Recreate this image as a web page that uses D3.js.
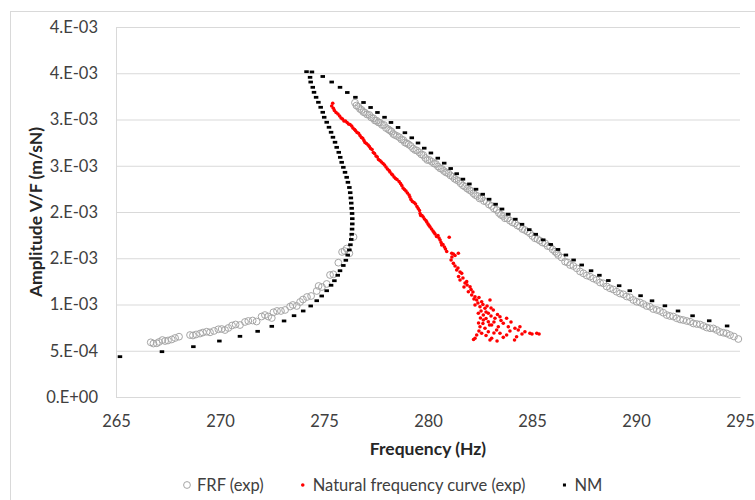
<!DOCTYPE html>
<html>
<head>
<meta charset="utf-8">
<script src="https://cdn.jsdelivr.net/npm/d3@7"></script>
<style>
  body { margin: 0; background: #fff; }
  text { font-family: Lato, "Open Sans", sans-serif; }
</style>
</head>
<body>
<svg id="vis" width="755" height="500"></svg>
<script>
// amplitudes are in units of 1e-3 m/sN
var xTicks = [265, 270, 275, 280, 285, 290, 295];
var yTicks = [0, 0.5, 1, 1.5, 2, 2.5, 3, 3.5, 4];
var yTickLabels = ["0.E+00", "5.E-04", "1.E-03", "2.E-03", "2.E-03", "3.E-03", "3.E-03", "4.E-03", "4.E-03"];
var legendNames = ["FRF (exp)", "Natural frequency curve (exp)", "NM"];

// FRF (exp) : lower branch then upper branch
var frfFreq = [266.67, 266.80, 266.96, 267.07, 267.23, 267.36, 267.50, 267.68, 267.84, 268.03,
  268.56, 268.70, 268.85, 269.04, 269.18, 269.36, 269.52, 269.71, 269.92, 270.08,
  270.24, 270.40, 270.58, 270.75, 270.96, 271.20, 271.36, 271.57, 271.76, 272.00,
  272.16, 272.32, 272.49, 272.57, 272.74, 272.93, 273.13, 273.37, 273.50, 273.69,
  273.85, 273.99, 274.18, 274.38, 274.65, 274.74, 274.90, 275.13, 275.29, 275.45,
  275.69, 275.87, 275.99, 276.09, 276.22, 276.42,
  276.49, 276.56, 276.65, 276.73, 276.81, 276.89, 276.97, 277.07, 277.18, 277.27,
  277.37, 277.45, 277.53, 277.62, 277.69, 277.79, 277.88, 277.98, 278.09, 278.17,
  278.25, 278.33, 278.41, 278.51, 278.62, 278.72, 278.81, 278.89, 278.98, 279.07,
  279.17, 279.28, 279.38, 279.47, 279.58, 279.68, 279.77, 279.87, 279.97, 280.07,
  280.18, 280.29, 280.38, 280.48, 280.58, 280.67, 280.77, 280.87, 280.98, 281.08,
  281.19, 281.28, 281.38, 281.48, 281.57, 281.68, 281.78, 281.88, 281.99, 282.08,
  282.18, 282.27, 282.37, 282.48, 282.58, 282.69, 282.82, 282.93, 283.06, 283.17,
  283.30, 283.41, 283.51, 283.61, 283.70, 283.82, 283.94, 284.06, 284.18, 284.30,
  284.42, 284.54, 284.66, 284.78, 284.90, 285.02, 285.14, 285.26, 285.38, 285.50,
  285.63, 285.75, 285.87, 285.99, 286.11, 286.19, 286.26, 286.42, 286.59, 286.71,
  286.83, 286.99, 287.15, 287.31, 287.47, 287.63, 287.79, 287.95, 288.11, 288.27,
  288.43, 288.59, 288.75, 288.91, 289.07, 289.23, 289.39, 289.55, 289.71, 289.87,
  290.03, 290.19, 290.35, 290.51, 290.67, 290.83, 291.00, 291.15, 291.31, 291.48,
  291.63, 291.79, 291.96, 292.12, 292.27, 292.44, 292.60, 292.76, 292.92, 293.08,
  293.24, 293.40, 293.56, 293.72, 293.88, 294.04, 294.20, 294.36, 294.52, 294.71,
  294.92];
var frfAmp = [0.591, 0.578, 0.581, 0.595, 0.616, 0.605, 0.611, 0.622, 0.638, 0.652,
  0.670, 0.665, 0.676, 0.686, 0.697, 0.706, 0.699, 0.714, 0.732, 0.735,
  0.724, 0.746, 0.773, 0.784, 0.778, 0.811, 0.822, 0.827, 0.816, 0.870,
  0.886, 0.870, 0.854, 0.916, 0.930, 0.930, 0.941, 0.978, 0.995, 0.984,
  1.027, 1.054, 1.081, 1.092, 1.146, 1.200, 1.189, 1.222, 1.319, 1.326,
  1.452, 1.568, 1.578, 1.605, 1.554, 1.730,
  3.182, 3.151, 3.138, 3.114, 3.103, 3.081, 3.074, 3.054, 3.049, 3.022,
  3.013, 2.989, 2.987, 2.968, 2.965, 2.941, 2.941, 2.908, 2.894, 2.881,
  2.868, 2.843, 2.832, 2.822, 2.808, 2.784, 2.778, 2.751, 2.743, 2.730,
  2.714, 2.687, 2.670, 2.665, 2.645, 2.622, 2.616, 2.584, 2.562, 2.562,
  2.544, 2.524, 2.519, 2.492, 2.472, 2.465, 2.443, 2.427, 2.418, 2.395,
  2.382, 2.359, 2.346, 2.335, 2.310, 2.287, 2.274, 2.254, 2.238, 2.227,
  2.202, 2.184, 2.173, 2.146, 2.148, 2.119, 2.111, 2.081, 2.065, 2.038,
  2.022, 1.989, 1.968, 1.957, 1.932, 1.930, 1.906, 1.887, 1.878, 1.854,
  1.841, 1.816, 1.805, 1.789, 1.770, 1.741, 1.716, 1.708, 1.690, 1.670,
  1.662, 1.632, 1.625, 1.595, 1.571, 1.557, 1.535, 1.508, 1.463, 1.454,
  1.427, 1.416, 1.391, 1.357, 1.337, 1.314, 1.301, 1.281, 1.265, 1.238,
  1.229, 1.195, 1.175, 1.162, 1.138, 1.119, 1.110, 1.087, 1.078, 1.049,
  1.030, 1.022, 1.005, 0.984, 0.976, 0.951, 0.941, 0.930, 0.911, 0.886,
  0.876, 0.870, 0.851, 0.838, 0.832, 0.822, 0.814, 0.795, 0.789, 0.784,
  0.768, 0.751, 0.743, 0.741, 0.724, 0.703, 0.695, 0.687, 0.670, 0.654,
  0.627];

// Natural frequency curve (exp)
var natFreq = [275.42, 275.37, 275.45, 275.50, 275.58, 275.67, 275.75, 275.82, 275.89, 275.96,
  276.03, 276.11, 276.18, 276.25, 276.33, 276.39, 276.47, 276.52, 276.59, 276.66,
  276.73, 276.80, 276.86, 276.92, 276.97, 277.04, 277.12, 277.18, 277.24, 277.31,
  277.37, 277.43, 277.50, 277.56, 277.62, 277.69, 277.76, 277.84, 277.91, 277.98,
  278.05, 278.13, 278.17, 278.25, 278.30, 278.37, 278.44, 278.51, 278.61, 278.68,
  278.74, 278.80, 278.87, 278.94, 279.01, 279.09, 279.13, 279.18, 279.25, 279.33,
  279.40, 279.47, 279.53, 279.59, 279.62, 279.65, 279.71, 279.77, 279.83, 279.90,
  279.94, 280.00, 280.05, 280.10, 280.17, 280.24, 280.29, 280.34, 280.41, 280.48,
  280.53, 280.58, 280.63, 280.66, 280.72, 280.79, 280.84, 280.90, 281.02, 281.14,
  281.22, 281.30, 281.46, 281.15, 281.11,
  281.22, 281.30, 281.38, 281.44, 281.54, 281.62, 281.47, 281.54, 281.68, 281.78,
  281.86, 281.73, 281.88, 282.02, 281.94, 282.07, 282.16, 282.10, 282.26, 282.21,
  282.34, 282.45, 282.58, 282.40, 282.26, 282.50, 282.64, 282.74, 282.98, 282.84,
  282.42, 282.55, 282.66, 282.79, 282.90, 283.14, 283.03, 282.66, 282.52, 282.79,
  282.90, 283.03, 283.22, 283.34, 283.46, 283.78, 282.50, 282.43, 282.64, 282.74,
  282.96, 283.06, 283.17, 283.38, 283.51, 283.62, 283.86, 283.99, 284.18, 284.42,
  282.34, 282.45, 282.58, 282.79, 282.90, 283.06, 283.17, 283.30, 283.46, 283.62,
  283.78, 283.94, 284.26, 284.16, 284.34, 284.52, 284.66, 284.90, 285.00, 285.23,
  285.34, 282.26, 282.19, 282.98, 283.32];
var natAmp = [3.175, 3.146, 3.121, 3.097, 3.076, 3.059, 3.038, 3.016, 3.005, 2.984,
  2.984, 2.968, 2.951, 2.946, 2.930, 2.908, 2.892, 2.879, 2.860, 2.851,
  2.827, 2.805, 2.797, 2.773, 2.751, 2.741, 2.724, 2.708, 2.687, 2.676,
  2.643, 2.632, 2.605, 2.595, 2.568, 2.557, 2.541, 2.524, 2.508, 2.487,
  2.465, 2.449, 2.432, 2.411, 2.400, 2.378, 2.362, 2.351, 2.330, 2.308,
  2.287, 2.259, 2.243, 2.227, 2.205, 2.184, 2.162, 2.135, 2.114, 2.103,
  2.087, 2.059, 2.038, 2.016, 1.984, 1.962, 1.962, 1.946, 1.924, 1.908,
  1.892, 1.870, 1.854, 1.838, 1.816, 1.795, 1.778, 1.762, 1.735, 1.746,
  1.719, 1.697, 1.670, 1.643, 1.649, 1.622, 1.600, 1.573, 1.727, 1.554,
  1.546, 1.530, 1.554, 1.514, 1.481,
  1.445, 1.416, 1.373, 1.395, 1.351, 1.337, 1.303, 1.265, 1.286, 1.232,
  1.247, 1.189, 1.211, 1.192, 1.138, 1.162, 1.135, 1.103, 1.084, 1.059,
  1.049, 1.076, 1.030, 1.016, 0.995, 0.976, 1.000, 0.959, 1.049, 0.984,
  0.905, 0.930, 0.886, 0.919, 0.905, 0.941, 0.962, 0.832, 0.854, 0.849,
  0.814, 0.876, 0.851, 0.892, 0.868, 0.851, 0.760, 0.800, 0.795, 0.743,
  0.778, 0.778, 0.811, 0.760, 0.827, 0.797, 0.760, 0.811, 0.743, 0.760,
  0.670, 0.714, 0.689, 0.665, 0.706, 0.635, 0.692, 0.724, 0.689, 0.645,
  0.670, 0.714, 0.652, 0.616, 0.724, 0.681, 0.706, 0.689, 0.681, 0.689,
  0.681, 0.635, 0.622, 0.616, 0.605];

// NM : lower / turning branch then upper branch
var nmFreq = [265.19, 267.21, 268.72, 269.97, 270.96, 271.81, 272.49, 273.08, 273.56, 274.00,
  274.36, 274.65, 274.89, 275.13, 275.34, 275.50, 275.66, 275.77, 275.93, 276.05,
  276.14, 276.22, 276.27, 276.31, 276.33, 276.35, 276.36, 276.36, 276.35, 276.33,
  276.31, 276.29, 276.26, 276.22, 276.15, 276.09, 276.01, 275.93, 275.85, 275.78,
  275.71, 275.61, 275.53, 275.43, 275.34, 275.24, 275.13, 275.01, 274.94, 274.84,
  274.73, 274.62, 274.52, 274.46, 274.36, 274.33, 274.16,
  274.42, 274.94, 275.37, 275.77, 276.12, 276.51, 276.90, 277.24, 277.57, 277.91,
  278.22, 278.56, 278.89, 279.22, 279.52, 279.82, 280.14, 280.47, 280.78, 281.09,
  281.38, 281.68, 281.99, 282.31, 282.63, 282.94, 283.25, 283.56, 283.86, 284.20,
  284.52, 284.87, 285.18, 285.54, 285.90, 286.25, 286.63, 287.00, 287.39, 287.84,
  288.24, 288.67, 289.19, 289.70, 290.22, 290.77, 291.39, 292.02, 292.72, 293.52,
  294.38];
var nmAmp = [0.436, 0.490, 0.544, 0.605, 0.656, 0.710, 0.764, 0.822, 0.879, 0.930,
  0.984, 1.041, 1.092, 1.149, 1.208, 1.257, 1.316, 1.365, 1.422, 1.478,
  1.534, 1.590, 1.646, 1.703, 1.759, 1.815, 1.871, 1.928, 1.984, 2.040,
  2.096, 2.152, 2.209, 2.265, 2.321, 2.375, 2.429, 2.483, 2.537, 2.591,
  2.645, 2.699, 2.754, 2.808, 2.862, 2.916, 2.970, 3.024, 3.078, 3.132,
  3.186, 3.240, 3.294, 3.348, 3.405, 3.456, 3.517,
  3.514, 3.465, 3.405, 3.348, 3.292, 3.240, 3.184, 3.130, 3.076, 3.024,
  2.968, 2.914, 2.857, 2.802, 2.746, 2.690, 2.638, 2.582, 2.528, 2.470,
  2.414, 2.355, 2.303, 2.246, 2.192, 2.138, 2.084, 2.032, 1.976, 1.922,
  1.867, 1.809, 1.759, 1.699, 1.649, 1.595, 1.535, 1.481, 1.427, 1.365,
  1.316, 1.259, 1.203, 1.149, 1.095, 1.040, 0.986, 0.930, 0.878, 0.824,
  0.768];

function pairs(xs, ys) {
  var n = Math.min(xs.length, ys.length);
  var out = [];
  for (var i = 0; i < n; i++) out.push({f: xs[i], a: ys[i]});
  return out;
}

function init() {
  var svg = d3.select("#vis");
  var plot = {left: 116, right: 740, top: 27, bottom: 397};
  var gridColor = "#d9d9d9";
  var labelSize = 16.5;
  var titleSize = 17.5;

  svg.append("rect")
    .attr("width", 755).attr("height", 500).attr("fill", "#fff");
  // chart outer border
  svg.append("rect")
    .attr("x", 10.5).attr("y", 11.5)
    .attr("width", 760).attr("height", 500)
    .attr("fill", "none").attr("stroke", gridColor);

  var x = d3.scaleLinear().domain([265, 295]).range([plot.left, plot.right]);
  var y = d3.scaleLinear().domain([0, 4]).range([plot.bottom, plot.top]);

  // y axis + gridlines
  var yAxis = svg.append("g")
    .attr("transform", "translate(" + plot.left + ",0)")
    .call(d3.axisLeft(y).tickValues(yTicks)
      .tickFormat(function (d, i) { return yTickLabels[i]; })
      .tickSize(-(plot.right - plot.left)).tickPadding(18));
  yAxis.select(".domain").attr("stroke", gridColor);
  yAxis.selectAll(".tick line").attr("stroke", gridColor);
  yAxis.selectAll(".tick text")
    .attr("font-size", labelSize).attr("fill", "#404040")
    .style("font-family", "Lato, sans-serif");

  // x axis
  var xAxis = svg.append("g")
    .attr("transform", "translate(0," + plot.bottom + ")")
    .call(d3.axisBottom(x).tickValues(xTicks).tickSize(0).tickPadding(18));
  xAxis.select(".domain").attr("stroke", gridColor);
  xAxis.selectAll(".tick text")
    .attr("font-size", labelSize).attr("fill", "#404040")
    .style("font-family", "Lato, sans-serif");

  // axis titles
  svg.append("text")
    .attr("x", 428).attr("y", 448)
    .attr("text-anchor", "middle").attr("dominant-baseline", "central")
    .attr("font-size", titleSize).attr("font-weight", "bold").attr("fill", "#262626")
    .text("Frequency (Hz)");
  svg.append("text")
    .attr("transform", "translate(35," + (plot.top + plot.bottom) / 2 + ") rotate(-90)")
    .attr("text-anchor", "middle").attr("dominant-baseline", "central")
    .attr("font-size", titleSize).attr("font-weight", "bold").attr("fill", "#262626")
    .text("Amplitude V/F (m/sN)");

  // FRF (exp) open circles
  svg.append("g").selectAll("circle")
    .data(pairs(frfFreq, frfAmp))
    .enter().append("circle")
    .attr("cx", function (d) { return x(d.f); })
    .attr("cy", function (d) { return y(d.a); })
    .attr("r", 3.4)
    .attr("fill", "none")
    .attr("stroke", "#a6a6a6")
    .attr("stroke-width", 1);

  // natural frequency curve (exp)
  svg.append("g").selectAll("circle")
    .data(pairs(natFreq, natAmp))
    .enter().append("circle")
    .attr("cx", function (d) { return x(d.f); })
    .attr("cy", function (d) { return y(d.a); })
    .attr("r", 1.8)
    .attr("fill", "#ff0000");

  // NM small dash markers
  svg.append("g").selectAll("rect")
    .data(pairs(nmFreq, nmAmp))
    .enter().append("rect")
    .attr("x", function (d) { return x(d.f) - 2.25; })
    .attr("y", function (d) { return y(d.a) - 1.4; })
    .attr("width", 4.5)
    .attr("height", 2.8)
    .attr("fill", "#000");

  // legend
  var legend = svg.append("g").attr("transform", "translate(0,485)");
  var lx = 187;
  legendNames.forEach(function (name, i) {
    var item = legend.append("g").attr("transform", "translate(" + lx + ",0)");
    if (i == 0) {
      item.append("circle").attr("r", 3.4).attr("fill", "none")
        .attr("stroke", "#a6a6a6");
    } else if (i == 1) {
      item.append("circle").attr("r", 1.8).attr("fill", "#ff0000");
    } else {
      item.append("rect").attr("x", -1.5).attr("y", -1.5)
        .attr("width", 3).attr("height", 3).attr("fill", "#000");
    }
    var t = item.append("text")
      .attr("x", 10).attr("dominant-baseline", "central")
      .attr("font-size", labelSize).attr("fill", "#404040")
      .text(name);
    lx += 10 + t.node().getComputedTextLength() + 39;
  });
}

init();
</script>
</body>
</html>
